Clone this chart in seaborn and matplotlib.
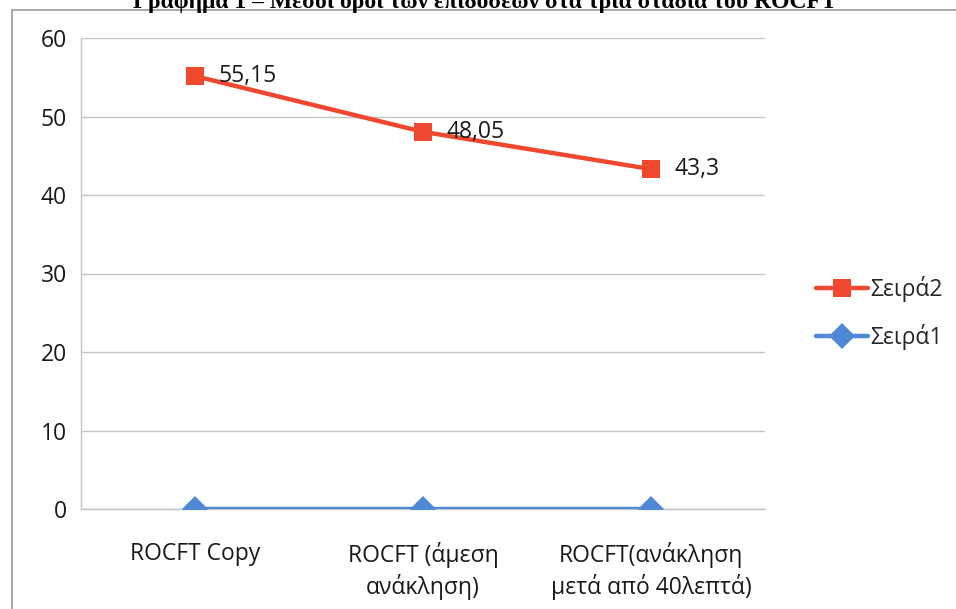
import matplotlib
matplotlib.use("Agg")
import matplotlib.pyplot as plt
from matplotlib.patches import Rectangle
from matplotlib.lines import Line2D
import seaborn as sns
import pandas as pd

# Chart data
categories = ["ROCFT Copy", "ROCFT (άμεση\nανάκληση)", "ROCFT(ανάκληση\nμετά από 40λεπτά)"]
series2_values = [55.15, 48.05, 43.3]
series1_values = [0, 0, 0]
series_names = ["Σειρά2", "Σειρά1"]
y_ticks = [0, 10, 20, 30, 40, 50, 60]
title_text = "Γράφημα 1 – Μέσοι όροι των επιδόσεων στα τρία στάδια του ROCFT"

RED = "#F0472F"
BLUE = "#4F88D4"
GRID = "#C4C4C4"
TXT = "#1a1a1a"
FS = 16.5

sns.set_theme(style="white")
plt.rcParams["font.family"] = ["Open Sans", "DejaVu Sans"]

W, H = 956, 609
fig = plt.figure(figsize=(W / 100, H / 100), dpi=100)
fig.patch.set_facecolor("white")

left, right, top, bottom = 81, 765, 38, 509
ax = fig.add_axes([left / W, 1 - bottom / H, (right - left) / W, (bottom - top) / H])

pos = list(range(len(categories)))
df = pd.DataFrame({
    "pos": pos * 2,
    "value": series2_values + series1_values,
    "series": [series_names[0]] * 3 + [series_names[1]] * 3,
})

# Blue series first so the red one sits on top
sns.lineplot(data=df[df.series == series_names[1]], x="pos", y="value", ax=ax,
             color=BLUE, linewidth=3.2, marker="D", markersize=13,
             markeredgewidth=0, legend=False, zorder=3)
sns.lineplot(data=df[df.series == series_names[0]], x="pos", y="value", ax=ax,
             color=RED, linewidth=3.2, marker="s", markersize=13,
             markeredgewidth=0, legend=False, zorder=4)

# Data labels for the upper series (comma decimal separator)
for x, v in zip(pos, series2_values):
    txt = f"{v:g}".replace(".", ",")
    ax.annotate(txt, (x, v), xytext=(17, 0), textcoords="offset points",
                ha="left", va="center", fontsize=FS, color=TXT, zorder=5)

ax.set_xlim(-0.5, len(categories) - 0.5)
ax.set_ylim(0, 60)
ax.set_yticks(y_ticks)
ax.set_yticklabels([str(t) for t in y_ticks], fontsize=FS, color=TXT)
ax.set_xticks(pos)
ax.set_xticklabels(categories, fontsize=FS, color=TXT, linespacing=1.3)
ax.set_xticks([p + 0.5 for p in [-1] + pos], minor=True)
ax.tick_params(axis="x", which="major", length=0, pad=24)
ax.tick_params(axis="x", which="minor", length=7, color=GRID, width=1, direction="out")
ax.tick_params(axis="y", which="major", length=7, color=GRID, width=1, direction="out", pad=3)
ax.set_xlabel("")
ax.set_ylabel("")

ax.grid(axis="y", color=GRID, linewidth=1)
ax.grid(axis="x", visible=False)
for side in ["top", "right"]:
    ax.spines[side].set_visible(False)
for side in ["left", "bottom"]:
    ax.spines[side].set_color(GRID)
    ax.spines[side].set_linewidth(1)

# Legend: Σειρά2 above Σειρά1
handles = [
    Line2D([0], [0], color=RED, lw=3.2, marker="s", markersize=13, markeredgewidth=0),
    Line2D([0], [0], color=BLUE, lw=3.2, marker="D", markersize=13, markeredgewidth=0),
]
fig.legend(handles, series_names, loc="center left",
           bbox_to_anchor=(795 / W, 1 - 313 / H), frameon=False, fontsize=FS,
           handlelength=2.3, handletextpad=0.1, labelspacing=0.95)

# Outer chart border
fig.patches.append(Rectangle((12 / W, -0.05), 1.1, 1 - 10 / H + 0.05,
                             transform=fig.transFigure, fill=False,
                             edgecolor="#9A9A9A", linewidth=1.2))

# Caption above the chart frame
fig.text(485 / W, 1 - 8 / H, title_text, ha="center", va="baseline",
         fontsize=17, fontweight="bold", family="Liberation Serif", color="black")

fig.savefig("out.png", dpi=100, facecolor="white")
